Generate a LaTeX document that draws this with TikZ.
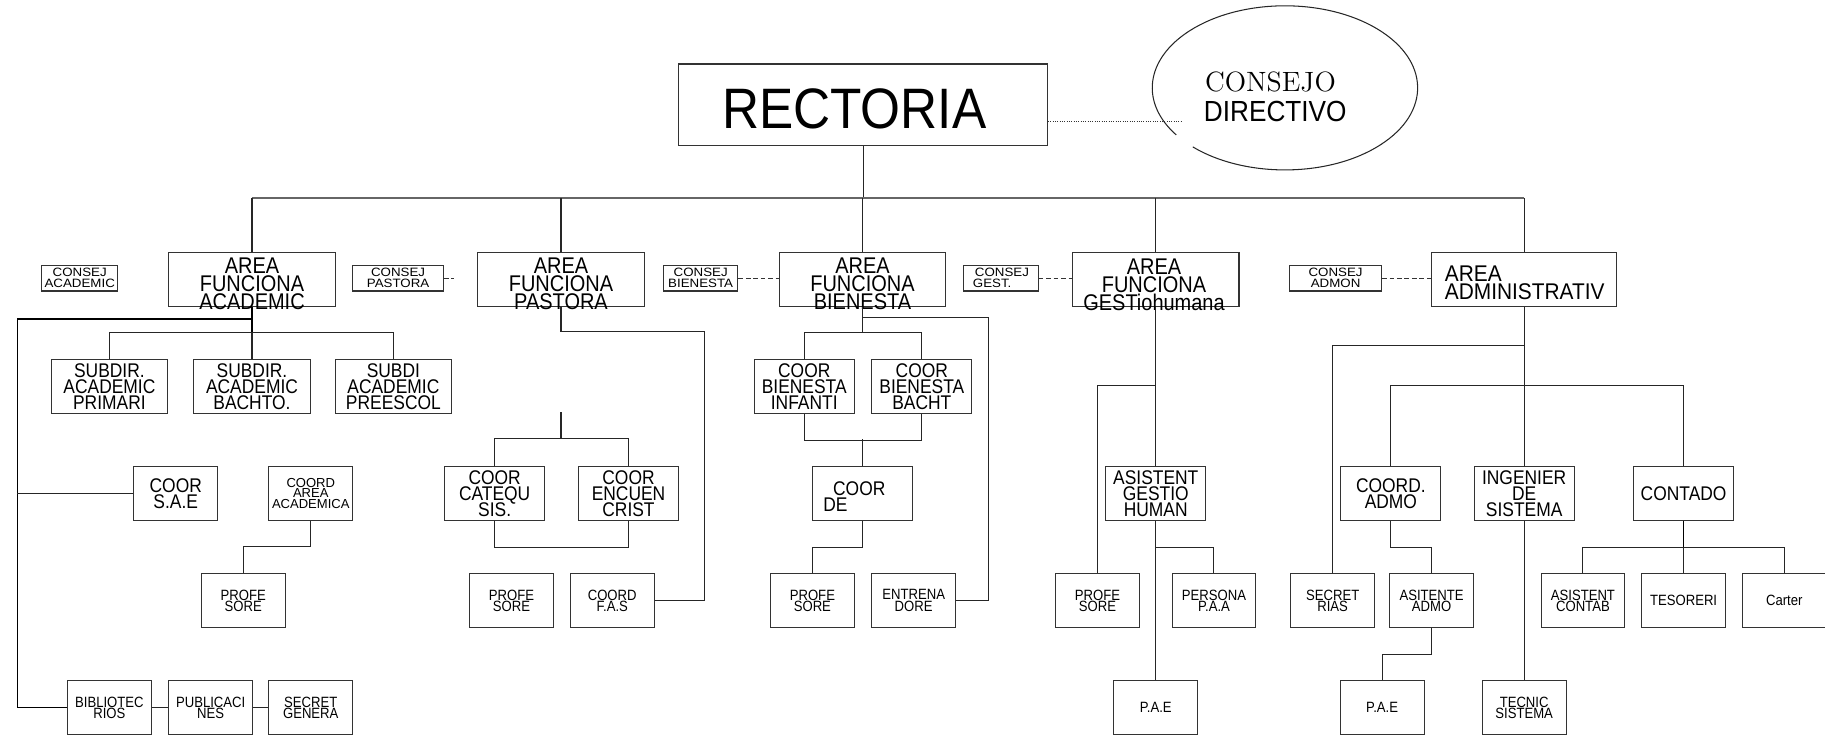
\documentclass[tikz,border=0pt]{standalone}
\usepackage{fontspec}
\newfontfamily\fA[FakeStretch=0.88]{Liberation Sans}
\newfontfamily\fB[FakeStretch=1.1]{Liberation Sans}
\newfontfamily\fC{Liberation Sans}
\newfontfamily\fR[FakeStretch=0.9]{Liberation Sans}
\newfontfamily\fD[FakeStretch=0.92]{Liberation Sans}
\usetikzlibrary{shapes.geometric}
\newcommand{\myfz}[2]{\fontsize{#1}{#2}\selectfont\lineskiplimit=-50pt\relax}
\tikzset{
 ln/.style={draw=black!85, line width=0.45pt},
 thk/.style={draw=black, line width=0.65pt},
 bus/.style={draw=black!60, line width=1.1pt},
 bx/.style={draw=black!80, line width=0.45pt, inner sep=0pt, align=center, minimum height=23pt},
 sbx/.style={bx, minimum width=36pt, font=\fA\myfz{6.4}{4.9}},
 mbx/.style={bx, minimum width=43pt, font=\fA\myfz{8.5}{6.8}},
 wbx/.style={bx, minimum width=50pt, font=\fA\myfz{8.5}{6.8}},
 abx/.style={bx, minimum width=71.5pt},
 cbx/.style={bx, minimum height=11pt, font=\fB\myfz{5.2}{4.7}},
 tx/.style={inner sep=0pt, align=center},
 atx/.style={tx, font=\fA\myfz{9.75}{7.7}},
 dsh/.style={draw=black!80, line width=0.45pt, dash pattern=on 2pt off 1.2pt},
 dotln/.style={draw=black!80, line width=0.45pt, dash pattern=on 0.4pt off 0.6pt},
}
\begin{document}
\begin{tikzpicture}[x=0.5pt,y=-0.5pt]
\useasboundingbox (0,0) rectangle (1568,632);
% top
\node[bx, minimum width=158.5pt, minimum height=35pt] (rect) at (741.5,90) {};
\node[tx, anchor=base, font=\fR\myfz{24.5}{28}] (rectt) at (734,110) {RECTORIA};
\node[ellipse, minimum width=114pt, minimum height=70.5pt, inner sep=0pt] (cd) at (1104,75.5) {};
\draw[ln] (1024.8,126.2) arc[start angle=226, end angle=575, x radius=57pt, y radius=35.25pt];
\node[tx, anchor=base west, font=\rmfamily\myfz{12}{14}] (cdt1) at (1035,79) {CONSEJO};
\node[tx, anchor=base west, font=\fR\myfz{12.5}{14}] (cdt2) at (1034,104) {DIRECTIVO};
\coordinate (cdl) at (1016,104);
\draw[dotln] (rect.east |- cdl) -- (cdl);
% areas
\node[abx] (acad) at (216.5,240) {};
\node[atx] (acadt) at (216.5,243.5) {AREA\\FUNCIONA\\ACADEMIC};
\node[abx] (past) at (482,240) {};
\node[atx] (pastt) at (482,243.5) {AREA\\FUNCIONA\\PASTORA};
\node[abx] (bien) at (741,240) {};
\node[atx] (bient) at (741,243.5) {AREA\\FUNCIONA\\BIENESTA};
\node[abx] (gest) at (993,240) {};
\node[atx] (gestt) at (991.5,244.5) {AREA\\FUNCIONA\\GESTiohumana};
\node[bx, minimum width=79.5pt] (admin) at (1309.5,240) {};
\node[tx, align=left, anchor=west, font=\fD\myfz{9.75}{8}] (admint) at (1241,243) {AREA\\ADMINISTRATIV};
\coordinate (busT) at (741.5,170);
\draw[ln] (rect.south) -- (busT);
\draw[bus] (acad.north |- busT) -- (admin.north |- busT);
\foreach \n in {acad,past,bien,gest,admin} \draw[ln] (\n.north |- busT) -- (\n.north);
% consej
\node[cbx, minimum width=32.5pt] (c1) at (68.5,239) {CONSEJ\\ACADEMIC};
\node[cbx, minimum width=39pt] (c2) at (342,239) {CONSEJ\\PASTORA};
\node[cbx, minimum width=32pt] (c3) at (602,239) {CONSEJ\\BIENESTA};
\node[cbx, minimum width=32pt, align=left] (c4) at (860,239) {\,CONSEJ\\GEST.};
\node[cbx, minimum width=39.5pt] (c5) at (1147.5,239) {CONSEJ\\ADMON};
\coordinate (c2e) at (390,239);
\draw[dsh] (c2.east) -- (c2e);
\draw[dsh] (c3.east) -- (bien.west |- c3.east);
\draw[dsh] (c4.east) -- (gest.west |- c4.east);
\draw[dsh] (c5.east) -- (admin.west |- c5.east);
% academic
\node[wbx] (s1) at (94,332) {SUBDIR.\\ACADEMIC\\PRIMARI};
\node[wbx] (s2) at (216.5,332) {SUBDIR.\\ACADEMIC\\BACHTO.};
\node[wbx] (s3) at (338,332) {SUBDI\\ACADEMIC\\PREESCOL};
\coordinate (aB) at (216.5,286);
\draw[thk] (acad.south) -- (aB);
\draw[ln] (s1.north) |- (aB) -| (s3.north);
\draw[ln] (s2.north) -- (aB);
\node[mbx, minimum width=36pt] (sae) at (151,424) {COOR\\S.A.E};
\node[sbx] (bib) at (94,608) {BIBLIOTEC\\RIOS};
\node[sbx] (pub) at (181,608) {PUBLICACI\\NES};
\node[sbx] (sec) at (267,608) {SECRET\\GENERA};
\coordinate (aL) at (15,274);
\draw[thk] (acad.south |- aL) -- (aL) -- (aL |- bib.west) -- (bib.west);
\draw[ln] (aL |- sae.west) -- (sae.west);
\draw[ln] (bib.east) -- (pub.west);
\draw[ln] (pub.east) -- (sec.west);
\node[bx, minimum width=36pt, font=\fC\myfz{5.6}{4.6}] (coa) at (267,424) {COORD\\AREA\\ACADEMICA};
\node[sbx] (p1) at (209,516) {PROFE\\SORE};
\draw[ln] (coa.south) -- ++(0,22) -| (p1.north);
% pastoral
\node[mbx] (cat) at (425,424) {COOR\\CATEQU\\SIS.};
\node[mbx] (enc) at (540,424) {COOR\\ENCUEN\\CRIST};
\node[sbx] (p2) at (439.5,516) {PROFE\\SORE};
\node[sbx] (fas) at (526,516) {COORD\\F.A.S};
\coordinate (pR) at (605,285);
\draw[ln] (past.south) |- (pR) -- (pR |- fas.east) -- (fas.east);
\coordinate (pS) at (482,354);
\coordinate (pB) at (482,377);
\draw[ln] (pS) -- (pB);
\draw[ln] (cat.north) |- (pB) -| (enc.north);
\draw[ln] (cat.south) -- ++(0,23) -| (enc.south);
% bienestar
\node[mbx] (b1) at (691,332) {COOR\\BIENESTA\\INFANTI};
\node[mbx] (b2) at (792,332) {COOR\\BIENESTA\\BACHT};
\node[bx, minimum width=43pt] (cde) at (741,424) {};
\node[tx, align=left, anchor=west, font=\fA\myfz{8.5}{6.8}] (cdet) at (707,427) {\hspace*{4.2pt}COOR\\DE};
\node[sbx] (p3) at (698,516) {PROFE\\SORE};
\node[sbx] (en) at (785,516) {ENTRENA\\DORE};
\coordinate (bB) at (741,286);
\coordinate (bR) at (849,273);
\draw[ln] (bien.south) -- (bB);
\draw[ln] (b1.north) |- (bB) -| (b2.north);
\draw[ln] (bien.south |- bR) -- (bR) -- (bR |- en.east) -- (en.east);
\draw[ln] (b1.south) -- ++(0,23) -| (b2.south);
\draw[ln] (cde.north) -- ++(0,-23);
\draw[ln] (cde.south) -- ++(0,23) -| (p3.north);
% gestion humana
\node[mbx] (agh) at (993,424) {ASISTENT\\GESTIO\\HUMAN};
\node[sbx] (p4) at (943,516) {PROFE\\SORE};
\node[sbx] (pers) at (1043,516) {PERSONA\\P.A.A};
\node[sbx] (pae1) at (993,608) {P.A.E};
\draw[ln] (gest.south) -- (agh.north);
\draw[ln] (agh.south) -- (pae1.north);
\coordinate (gL) at (993,331);
\coordinate (gP) at (993,470);
\draw[ln] (gL) -| (p4.north);
\draw[ln] (gP) -| (pers.north);
% administrativa
\node[mbx] (cad) at (1195,424) {COORD.\\ADMO};
\node[mbx] (ing) at (1309.5,424) {INGENIER\\DE\\SISTEMA};
\node[mbx] (cont) at (1446.5,424) {CONTADO};
\node[sbx] (secr) at (1145,516) {SECRET\\RIAS};
\node[sbx] (asit) at (1230,516) {ASITENTE\\ADMO};
\node[sbx] (pae2) at (1187.5,608) {P.A.E};
\node[sbx] (tec) at (1309.5,608) {TECNIC\\SISTEMA};
\node[sbx] (ac) at (1360,516) {ASISTENT\\CONTAB};
\node[sbx] (tes) at (1446.5,516) {TESORERI};
\node[sbx] (car) at (1533,516) {Carter};
\draw[ln] (admin.south) -- (ing.north);
\draw[ln] (ing.south) -- (tec.north);
\coordinate (dS) at (1309.5,297);
\coordinate (dB) at (1309.5,331);
\draw[ln] (dS) -| (secr.north);
\draw[ln] (cad.north) |- (dB) -| (cont.north);
\draw[ln] (cad.south) -- ++(0,23) -| (asit.north);
\draw[ln] (asit.south) -- ++(0,23) -| (pae2.north);
\coordinate (kB) at (1446.5,470);
\draw[thk] (cont.south) -- (kB);
\draw[ln] (ac.north) |- (kB) -| (car.north);
\draw[ln] (tes.north) -- (kB);
\end{tikzpicture}
\end{document}
